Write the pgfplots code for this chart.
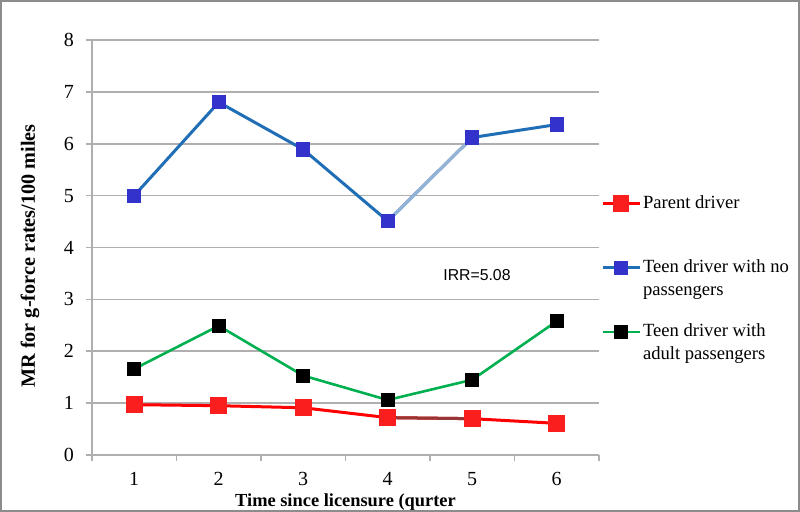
\documentclass[border=0pt]{standalone}
\usepackage{fontspec}
\setmainfont{Liberation Serif}
\newfontfamily\arialfont{Liberation Sans}
\usepackage{pgfplots}
\pgfplotsset{compat=1.18}
\definecolor{bline}{RGB}{31,110,182}
\definecolor{bmark}{RGB}{51,51,204}
\definecolor{lblue}{RGB}{149,179,215}
\definecolor{gline}{RGB}{0,176,80}
\definecolor{rline}{RGB}{255,0,0}
\definecolor{rmark}{RGB}{250,30,30}
\definecolor{dred}{RGB}{149,55,53}
\definecolor{gridc}{RGB}{175,175,175}
\definecolor{framec}{RGB}{140,140,140}
\newcommand{\lent}[2]{\begin{tabular}[t]{@{}l@{}}#1\\#2\end{tabular}}
\begin{document}
\begin{tikzpicture}
\path[use as bounding box] (0,0) rectangle (400pt,256pt);
\draw[framec, line width=1pt] (0.5pt,0.5pt) rectangle (399.5pt,255.5pt);
\begin{axis}[
  at={(46pt,28.5pt)}, anchor=south west, scale only axis,
  width=253.5pt, height=207.5pt,
  xmin=0.5, xmax=6.5, ymin=0, ymax=8,
  axis x line=bottom, axis y line=left,
  axis line style={-, draw=gridc, line width=0.8pt},
  xtick={1,...,6}, ytick={0,...,8},
  minor xtick={0.5,1.5,...,6.5},
  major x tick style={draw=none},
  tick align=outside, major tick length=3pt, minor tick length=3pt,
  tick style={gridc, line width=0.8pt},
  ymajorgrids, grid style={gridc, line width=0.8pt},
  /pgf/number format/assume math mode=true,
  tick label style={font=\fontsize{10}{12}\selectfont},
  xticklabel style={yshift=-2pt},
  yticklabel style={xshift=-2.5pt},
  xlabel={\textbf{Time since licensure (qurter}},
  ylabel={\textbf{MR for g-force rates/100 miles}},
  xlabel style={font=\fontsize{9.2}{11}\selectfont, at={(axis description cs:0.5,0)}, anchor=center, yshift=-23.5pt},
  ylabel style={font=\fontsize{10.1}{12}\selectfont, at={(axis description cs:-0.1223,0.4795)}, anchor=center},
  legend cell align=left,
  legend style={draw=none, fill=none, at={(axis description cs:1.004,0.638)}, anchor=north west,
    inner sep=0pt, outer sep=0pt, column sep=0pt,
    font=\fontsize{9.3}{11.5}\selectfont, row sep=20.5pt,
    cells={anchor=mid west},
    nodes={inner sep=1pt}},
  legend image code/.code={\draw[mark repeat=2,mark phase=2,#1] plot coordinates {(0pt,0pt) (9.25pt,0pt) (18.5pt,0pt)};},
]
% Parent driver
\addplot[rline, line width=1.5pt, mark=square*, mark size=3.4pt, mark options={fill=rmark, draw=rmark, solid}]
  coordinates {(1,0.97)(2,0.95)(3,0.91)(4,0.72)(5,0.70)(6,0.61)};
\addlegendentry{\lent{Parent driver}{\mbox{}}}
\addplot[dred, line width=1.5pt, forget plot] coordinates {(4,0.72)(5,0.70)};
\addplot[only marks, mark=square*, mark size=3.4pt, mark options={fill=rmark, draw=rmark}, forget plot]
  coordinates {(4,0.72)(5,0.70)};
% Teen no passengers
\addplot[bline, line width=1.5pt, mark=square*, mark size=2.8pt, mark options={fill=bmark, draw=bmark, solid}]
  coordinates {(1,5.00)(2,6.80)(3,5.89)(4,4.51)(5,6.12)(6,6.37)};
\addlegendentry{\lent{Teen driver with no}{passengers}}
\addplot[lblue, line width=1.5pt, forget plot] coordinates {(4,4.51)(5,6.12)};
\addplot[only marks, mark=square*, mark size=2.8pt, mark options={fill=bmark, draw=bmark}, forget plot]
  coordinates {(4,4.51)(5,6.12)};
% Teen adult passengers
\addplot[gline, line width=1.3pt, mark=square*, mark size=2.9pt, mark options={fill=black, draw=black, solid}]
  coordinates {(1,1.66)(2,2.49)(3,1.53)(4,1.06)(5,1.45)(6,2.58)};
\addlegendentry{\lent{Teen driver with}{adult passengers}}
\node[font=\arialfont\fontsize{7.9}{9.5}\selectfont] at (axis cs:5.056,3.47) {IRR=5.08};
\end{axis}
\end{tikzpicture}
\end{document}
